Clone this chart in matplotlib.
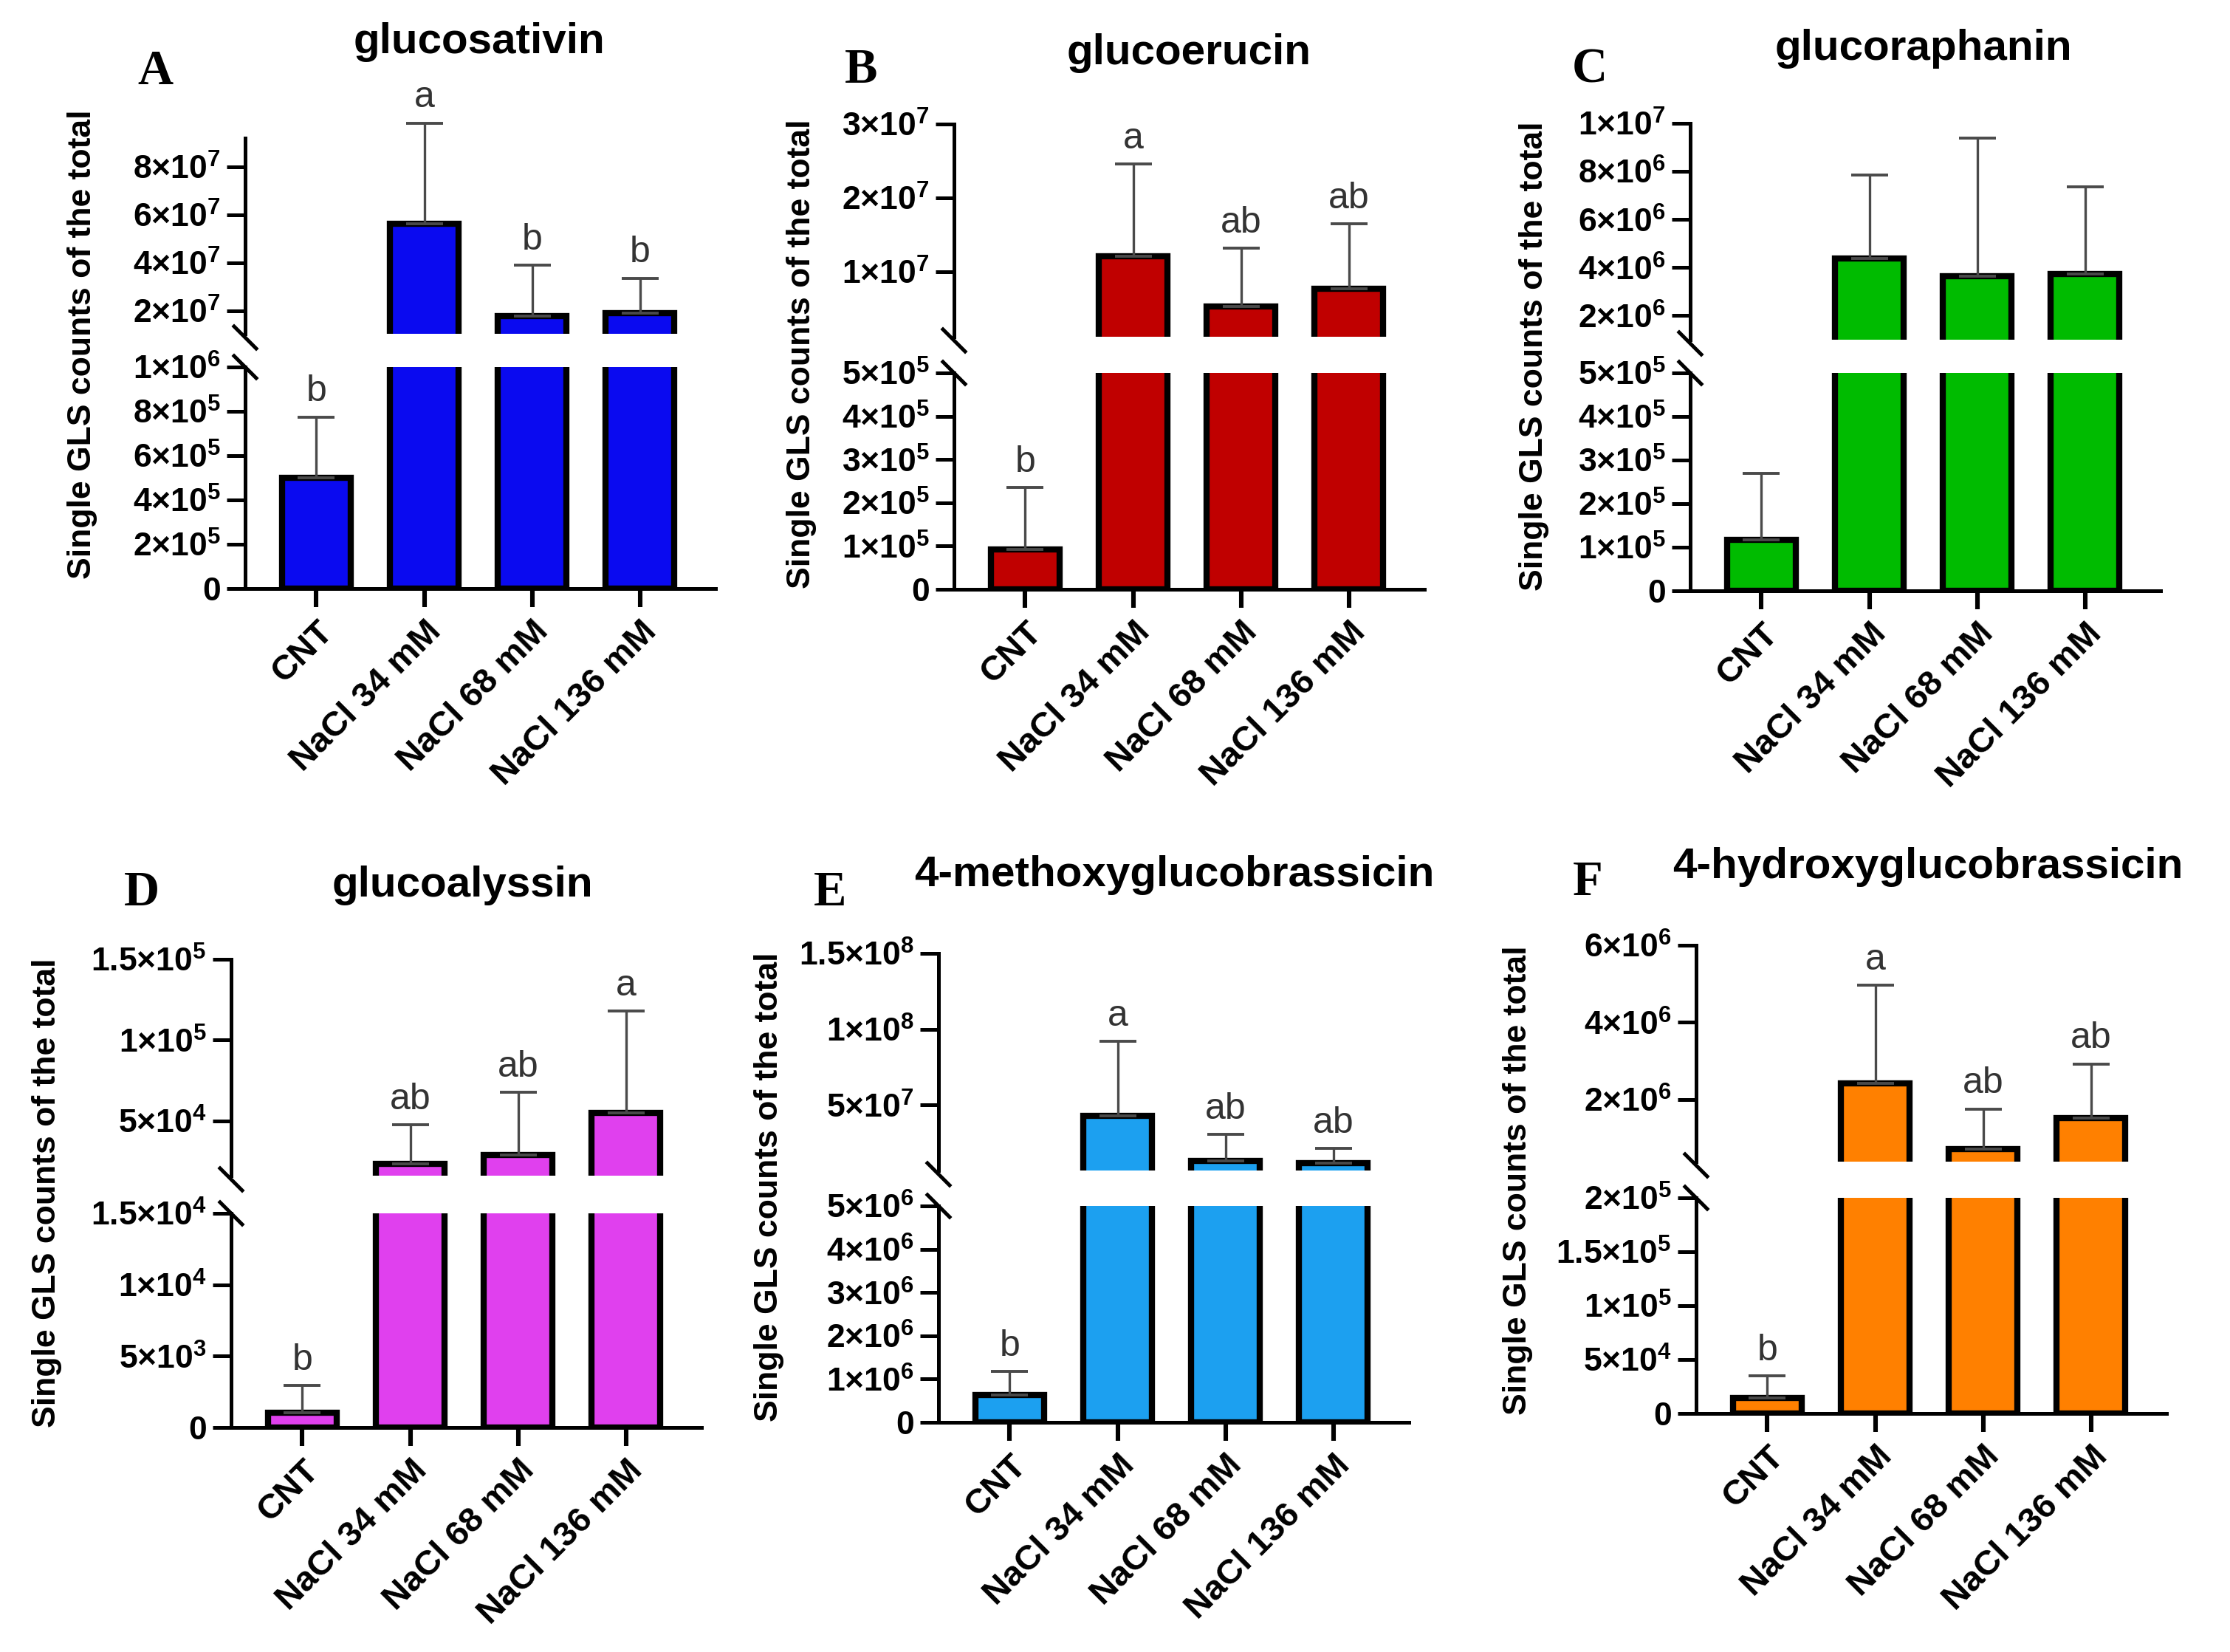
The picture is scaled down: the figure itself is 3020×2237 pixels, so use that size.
import numpy as np
import matplotlib
matplotlib.use("Agg")
import matplotlib.pyplot as plt
from matplotlib.lines import Line2D

plt.rcParams["font.family"] = ["Liberation Sans", "DejaVu Sans"]
plt.rcParams["mathtext.fontset"] = "custom"
plt.rcParams["mathtext.rm"] = "Liberation Sans"
plt.rcParams["mathtext.bf"] = "Liberation Sans:bold"
plt.rcParams["mathtext.default"] = "bf"

groups = ["CNT", "NaCl 34 mM", "NaCl 68 mM", "NaCl 136 mM"]

titles = ["glucosativin", "glucoerucin", "glucoraphanin",
          "glucoalyssin", "4-methoxyglucobrassicin", "4-hydroxyglucobrassicin"]
panel_tags = ["A", "B", "C", "D", "E", "F"]
bar_colors = ["#0a0af0", "#c00000", "#00bb00", "#e040ee", "#1ca0f0", "#ff8000"]

# mean and SD per group
sativin_mean = [5.0e5, 5.63e7, 1.78e7, 1.9e7]
sativin_sd = [2.75e5, 4.2e7, 2.12e7, 1.47e7]
sativin_sig = ["b", "a", "b", "b"]

erucin_mean = [9.2e4, 1.21e7, 5.3e6, 7.7e6]
erucin_sd = [1.44e5, 1.25e7, 7.9e6, 8.8e6]
erucin_sig = ["b", "a", "ab", "ab"]

raphanin_mean = [1.17e5, 4.39e6, 3.63e6, 3.74e6]
raphanin_sd = [1.53e5, 3.46e6, 5.77e6, 3.61e6]
raphanin_sig = ["", "", "", ""]

alyssin_mean = [1.06e3, 2.35e4, 2.9e4, 5.48e4]
alyssin_sd = [1.9e3, 2.42e4, 3.87e4, 6.32e4]
alyssin_sig = ["b", "ab", "ab", "a"]

methoxy_mean = [6.3e5, 4.28e7, 1.34e7, 1.16e7]
methoxy_sd = [5.4e5, 4.92e7, 1.74e7, 1.0e7]
methoxy_sig = ["b", "a", "ab", "ab"]

hydroxy_mean = [1.46e4, 2.42e6, 7.0e5, 1.52e6]
hydroxy_sd = [2.04e4, 2.54e6, 1.05e6, 1.4e6]
hydroxy_sig = ["b", "a", "ab", "ab"]

means = [sativin_mean, erucin_mean, raphanin_mean, alyssin_mean, methoxy_mean, hydroxy_mean]
sds = [sativin_sd, erucin_sd, raphanin_sd, alyssin_sd, methoxy_sd, hydroxy_sd]
sigs = [sativin_sig, erucin_sig, raphanin_sig, alyssin_sig, methoxy_sig, hydroxy_sig]

# broken y axis: lower segment (0..top) and upper segment (bottom..top)
lower_max = [1e6, 5e5, 5e5, 1.5e4, 5e6, 2e5]
lower_step = [2e5, 1e5, 1e5, 5e3, 1e6, 5e4]
upper_lim = [(1.05e7, 9.2e7), (1.2e6, 3e7), (1e6, 1e7),
             (1.6e4, 1.5e5), (6.9e6, 1.5e8), (3.8e5, 6e6)]
upper_ticks = [[2e7, 4e7, 6e7, 8e7], [1e7, 2e7, 3e7], [2e6, 4e6, 6e6, 8e6, 1e7],
               [5e4, 1e5, 1.5e5], [5e7, 1e8, 1.5e8], [2e6, 4e6, 6e6]]

# layout in pixels: y-axis x, upper top, upper bottom, lower top, lower bottom
W, H, DPI = 3020, 2237, 200
AX_W = 637
boxes = [(332, 187, 452, 497, 797), (1292, 168, 456, 505, 798), (2289, 167, 460, 505, 800),
         (313, 1299, 1592, 1643, 1933), (1271, 1291, 1585, 1633, 1926), (2297, 1280, 1573, 1622, 1914)]
title_pos = [(649, 57), (1610, 72), (2605, 66), (626, 1199), (1590, 1185), (2611, 1174)]
tag_pos = [(210, 98), (1166, 95), (2153, 95), (192, 1210), (1124, 1210), (2150, 1196)]
ylab_pos = [(112, 466), (1086, 479), (2078, 482), (64, 1615), (1041, 1607), (2055, 1598)]


def sci(v):
    if v == 0:
        return "0"
    e = int(np.floor(np.log10(v) + 1e-9))
    m = v / 10 ** e
    return r"$%s{\times}10^{%d}$" % (f"{m:g}", e)


def rect(x0, ytop, ybot):
    return [x0 / W, 1 - ybot / H, AX_W / W, (ybot - ytop) / H]


fig = plt.figure(figsize=(W / DPI, H / DPI), dpi=DPI)
xs = np.arange(len(groups))

for i in range(6):
    x0, ut, ub, lt, lb = boxes[i]
    ax_up = fig.add_axes(rect(x0, ut, ub))
    ax_lo = fig.add_axes(rect(x0, lt, lb))
    for ax in (ax_up, ax_lo):
        ax.bar(xs, means[i], width=0.64, color=bar_colors[i], edgecolor="black",
               linewidth=3.0, zorder=2)
        ax.set_xlim(-0.66, 3.70)
        ax.spines[["top", "right"]].set_visible(False)
        ax.spines["left"].set_linewidth(1.8)
        ax.tick_params(axis="y", length=9, width=1.8, labelsize=16, pad=3)
        ax.patch.set_alpha(0)

    ax_lo.set_ylim(0, lower_max[i])
    lt_ticks = np.arange(0, lower_max[i] + lower_step[i] / 2, lower_step[i])
    ax_lo.set_yticks(lt_ticks)
    ax_lo.set_yticklabels([sci(v) for v in lt_ticks])
    ax_lo.spines["bottom"].set_linewidth(1.8)
    ax_lo.set_xticks(xs)
    ax_lo.set_xticklabels(groups, rotation=45, ha="right", rotation_mode="anchor",
                          fontsize=17, fontweight="bold")
    ax_lo.tick_params(axis="x", length=9, width=2.2, pad=4)

    ax_up.set_ylim(*upper_lim[i])
    ax_up.set_yticks(upper_ticks[i])
    ax_up.set_yticklabels([sci(v) for v in upper_ticks[i]])
    ax_up.spines["bottom"].set_visible(False)
    ax_up.tick_params(axis="x", bottom=False, labelbottom=False)

    for ax in (ax_up, ax_lo):
        for lab in ax.get_yticklabels():
            lab.set_fontweight("bold")

    # error bars (upper side only) and letters
    for j in range(len(groups)):
        ax = ax_lo if means[i][j] <= lower_max[i] else ax_up
        eb = ax.errorbar(xs[j], means[i][j], yerr=[[0], [sds[i][j]]], fmt="none",
                         ecolor="#4a4a4a", elinewidth=1.2, capsize=9, capthick=1.4, zorder=3)
        for art in list(eb.lines[1]) + list(eb.lines[2]):
            art.set_clip_on(False)
        if sigs[i][j]:
            ax.annotate(sigs[i][j], (xs[j], means[i][j] + sds[i][j]), xytext=(0, 4),
                        textcoords="offset points", ha="center", va="bottom",
                        fontsize=18, color="#333333", annotation_clip=False)

    # break marks on the y axis
    for yc in (ub + 5, lt):
        fig.add_artist(Line2D([(x0 - 15) / W, (x0 + 15) / W],
                              [1 - (yc - 15) / H, 1 - (yc + 15) / H],
                              transform=fig.transFigure, color="black", lw=1.8))

    tx, ty = title_pos[i]
    fig.text(tx / W, 1 - ty / H, titles[i], ha="center", va="center",
             fontsize=21, fontweight="bold")
    gx, gy = tag_pos[i]
    fig.text(gx / W, 1 - gy / H, panel_tags[i], ha="center", va="center",
             fontsize=24, fontweight="bold", family="Liberation Serif")
    lx, ly = ylab_pos[i]
    fig.text(lx / W, 1 - ly / H, "Single GLS counts of the total", rotation=90,
             ha="center", va="center", fontsize=16, fontweight="bold")

fig.savefig("out.png", dpi=DPI, facecolor="white")
